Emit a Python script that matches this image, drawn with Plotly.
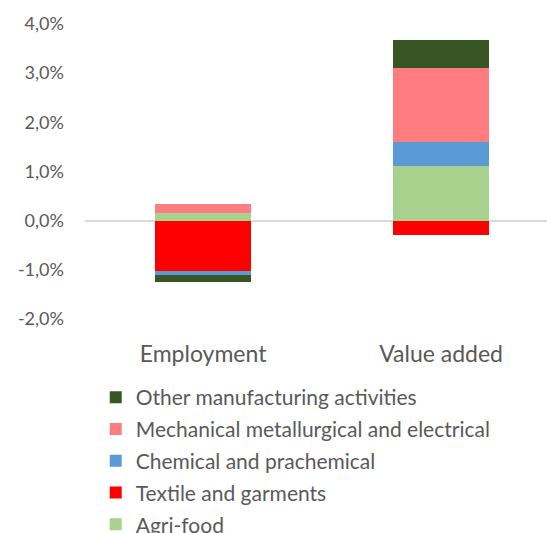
import plotly.graph_objects as go

categories = ["Employment", "Value added"]
series_names = [
    "Agri-food",
    "Textile and garments",
    "Chemical and prachemical",
    "Mechanical metallurgical and electrical",
    "Other manufacturing activities",
]
agri_food = [0.0015, 0.0112]
textile = [-0.0102, -0.0029]
chemical = [-0.0008, 0.0049]
mechanical = [0.0018, 0.0149]
other = [-0.0015, 0.0058]
series_values = [agri_food, textile, chemical, mechanical, other]
colors = ["#A9D18E", "#FF0000", "#5B9BD5", "#FF7C80", "#375623"]

y_ticks = [-0.02, -0.01, 0.0, 0.01, 0.02, 0.03, 0.04]
y_tick_labels = ["-2,0%", "-1,0%", "0,0%", "1,0%", "2,0%", "3,0%", "4,0%"]

fig = go.Figure()
n = len(series_names)
for i, (name, vals, col) in enumerate(zip(series_names, series_values, colors)):
    fig.add_trace(go.Bar(
        x=categories, y=vals, name=name, marker_color=col,
        marker_line_width=0, width=0.4, legendgroup=name,
        legendrank=n - i,
    ))

font_family = "Lato, 'Open Sans', sans-serif"
fig.update_layout(
    width=547, height=533,
    barmode="relative",
    paper_bgcolor="white", plot_bgcolor="white",
    margin=dict(l=85, r=0, t=24, b=214, autoexpand=False),
    font=dict(family=font_family, color="#595959", size=17),
    xaxis=dict(
        range=[-0.496, 1.445], showgrid=False, showline=False, zeroline=False,
        ticks="", tickfont=dict(size=23, color="#595959"), ticklabelstandoff=19,
        tickangle=0, automargin=False,
    ),
    yaxis=dict(
        range=[-0.02, 0.04], tickvals=y_ticks, ticktext=y_tick_labels,
        showgrid=False, zeroline=True, zerolinecolor="#D9D9D9", zerolinewidth=2,
        showline=False, ticks="", tickfont=dict(size=18, color="#595959"),
        ticklabelstandoff=20, automargin=False,
    ),
    bargap=0.0,
    showlegend=True,
    legend=dict(
        orientation="v", traceorder="grouped", tracegroupgap=1.5,
        xref="container", yref="container", x=0.175, y=1 - 377 / 533,
        xanchor="left", yanchor="top",
        font=dict(size=21, color="#595959", family=font_family),
        bgcolor="rgba(0,0,0,0)",
    ),
)

fig.write_html("out.html")
